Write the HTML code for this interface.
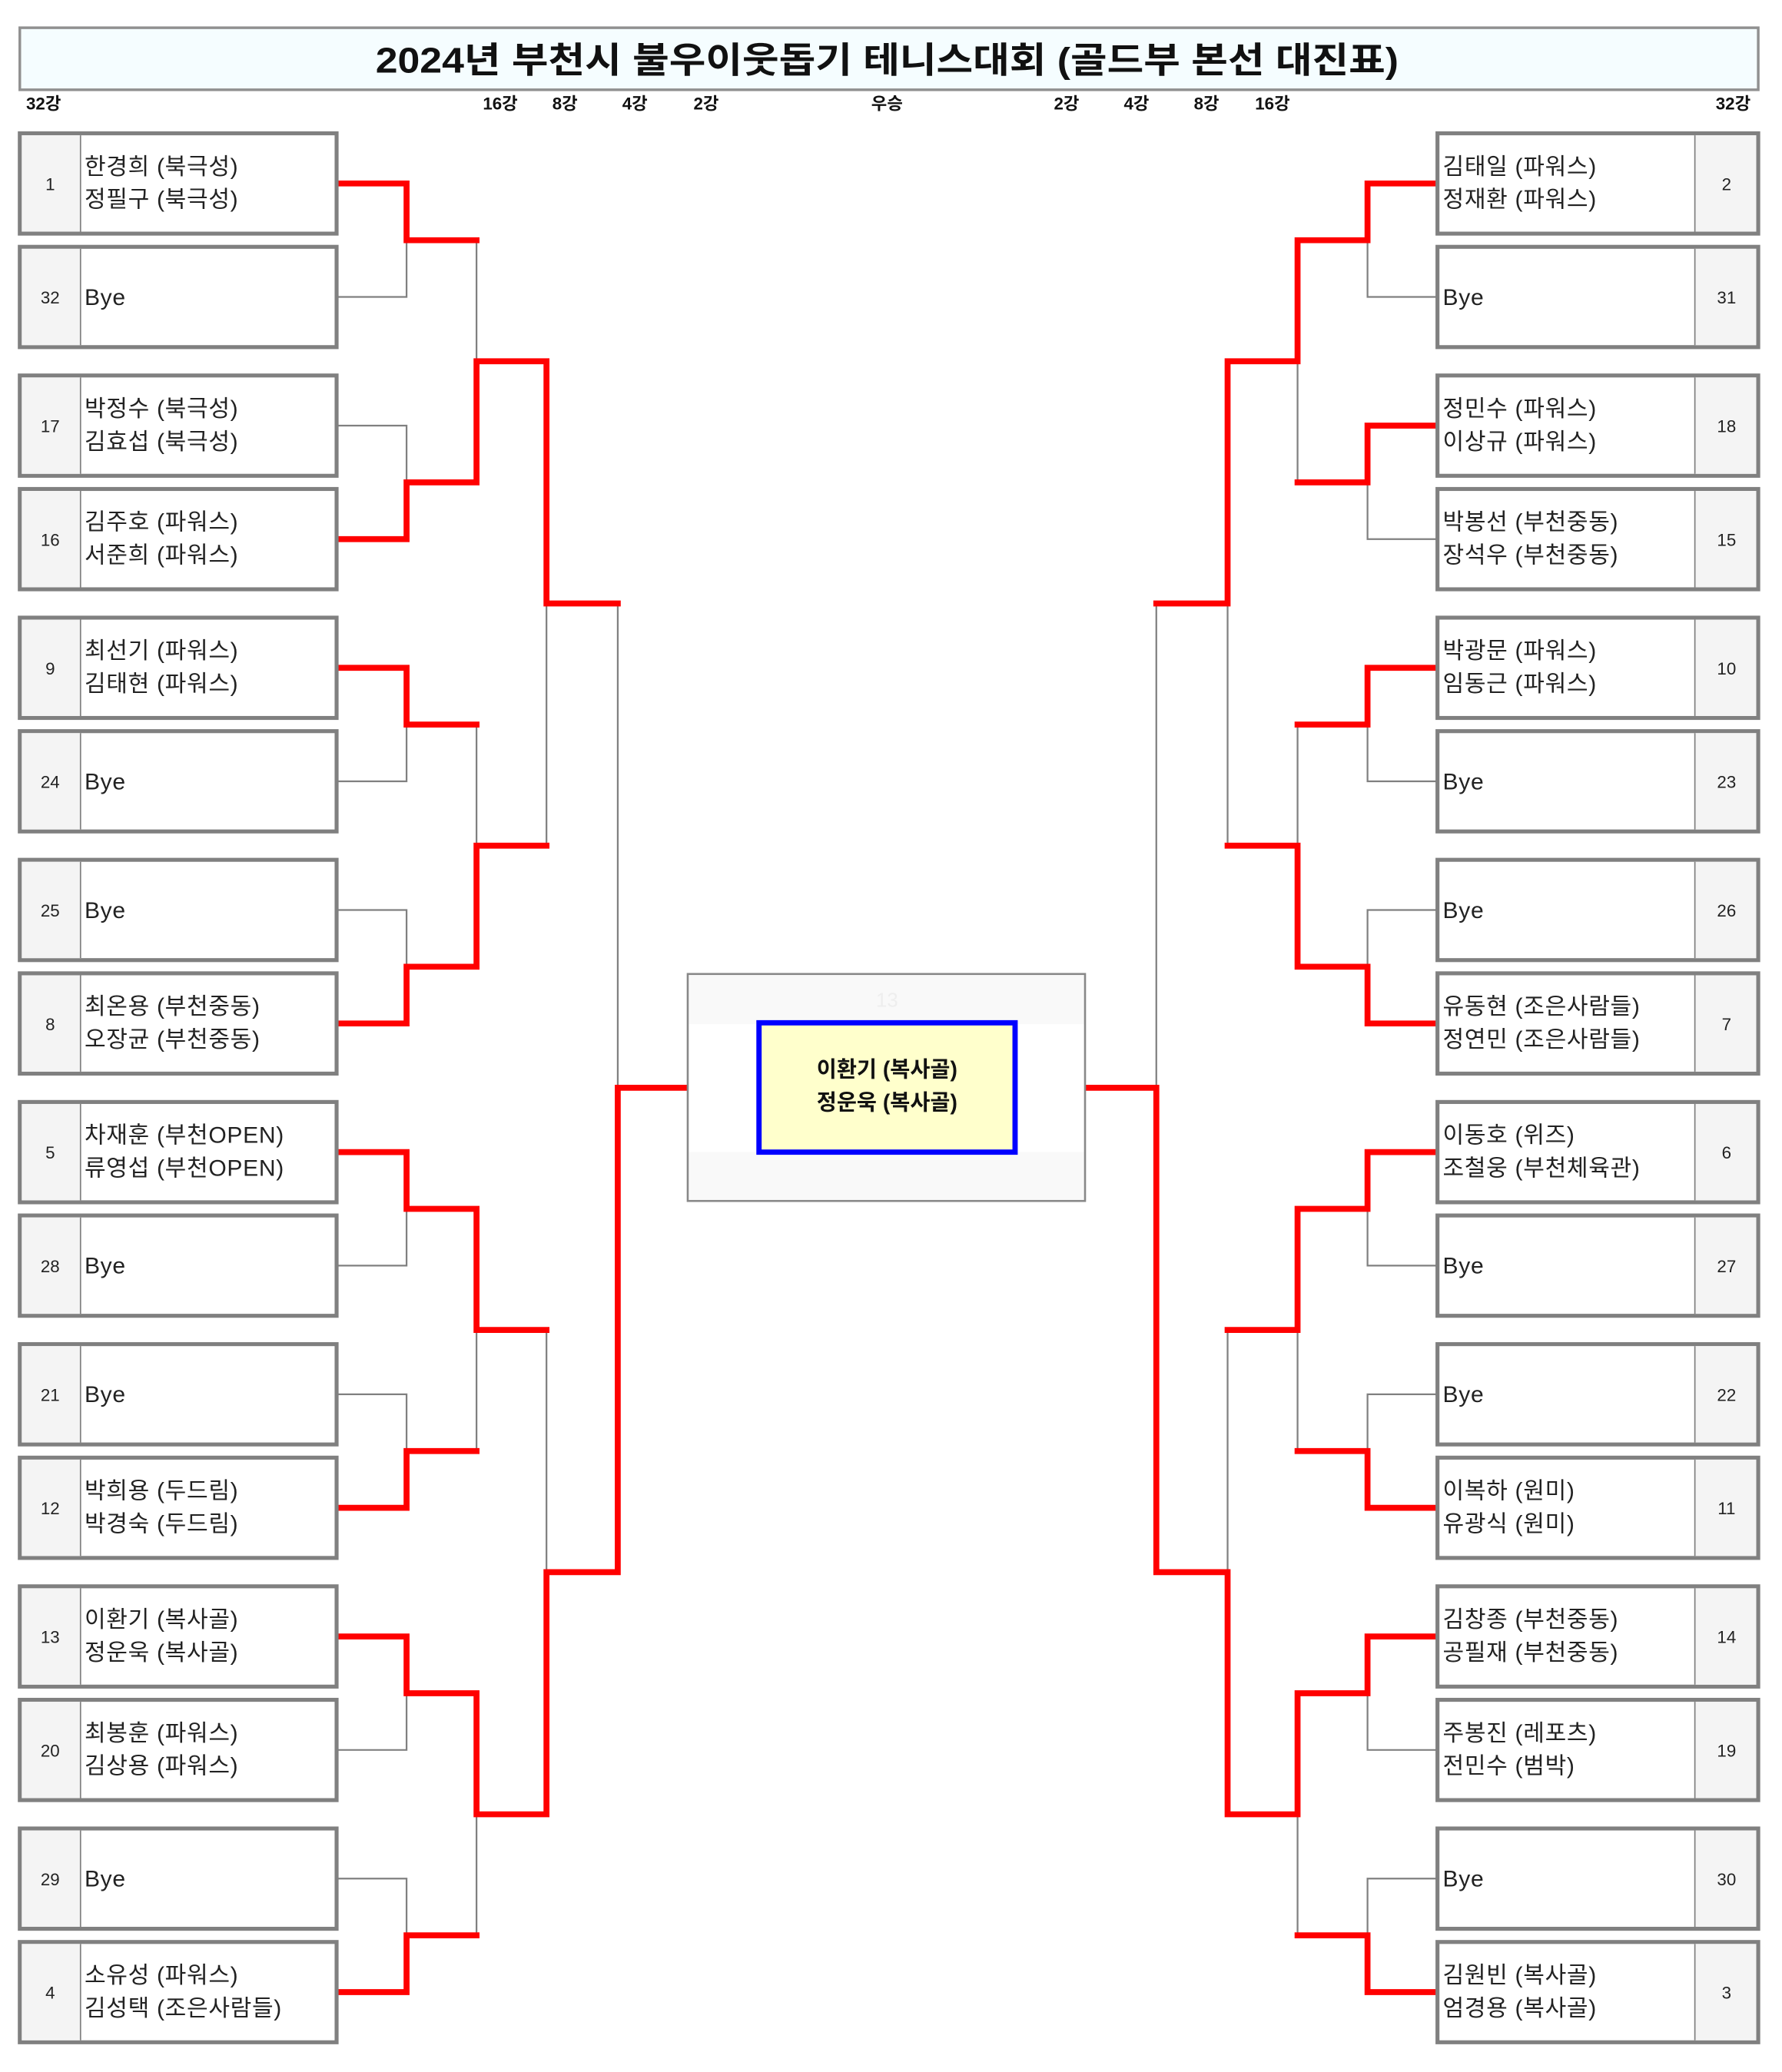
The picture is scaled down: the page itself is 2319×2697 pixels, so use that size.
<!DOCTYPE html>
<html><head><meta charset="utf-8"><style>html,body{margin:0;padding:0;background:#fff}svg{display:block}</style></head><body>
<svg xmlns="http://www.w3.org/2000/svg" width="2319" height="2697" viewBox="0 0 1350 1570" font-family="'Liberation Sans','Noto Sans CJK KR',sans-serif">
<defs>
<g id="L"><rect x="15" y="0" width="240" height="76" fill="#fff" stroke="#808080" stroke-width="3"/><rect x="16.5" y="1.5" width="44.5" height="73" fill="#f4f4f4"/><line x1="61" y1="1.5" x2="61" y2="74.5" stroke="#808080" stroke-width="1"/></g>
<g id="R"><rect x="1089" y="0" width="243" height="76" fill="#fff" stroke="#808080" stroke-width="3"/><rect x="1284" y="1.5" width="46.5" height="73" fill="#f4f4f4"/><line x1="1284" y1="1.5" x2="1284" y2="74.5" stroke="#808080" stroke-width="1"/></g>
</defs>
<rect x="15" y="21" width="1317" height="47" fill="#f5fdff" stroke="#909090" stroke-width="2"/>
<text x="672" y="55" text-anchor="middle" font-size="27" font-weight="bold" textLength="775" lengthAdjust="spacingAndGlyphs" fill="#111">2024년 부천시 불우이웃돕기 테니스대회 (골드부 본선 대진표)</text>
<g font-size="13" font-weight="bold" fill="#111" text-anchor="middle">
<text x="33" y="83">32강</text><text x="379" y="83">16강</text><text x="428" y="83">8강</text><text x="481" y="83">4강</text><text x="535" y="83">2강</text><text x="672" y="83">우승</text><text x="808" y="83">2강</text><text x="861" y="83">4강</text><text x="914" y="83">8강</text><text x="964" y="83">16강</text><text x="1313" y="83">32강</text>
</g>
<g fill="none" stroke="#808080" stroke-width="1.3">
<path d="M255 139H308V225H255M308 182H361 M255 322.5H308V408.5H255M308 365.5H361 M255 506H308V592H255M308 549H361 M255 689.5H308V775.5H255M308 732.5H361 M255 873H308V959H255M308 916H361 M255 1056.5H308V1142.5H255M308 1099.5H361 M255 1240H308V1326H255M308 1283H361 M255 1423.5H308V1509.5H255M308 1466.5H361"/>
<path d="M361 182V365.5M361 273.75H414 M361 549V732.5M361 640.75H414 M361 916V1099.5M361 1007.75H414 M361 1283V1466.5M361 1374.75H414"/>
<path d="M414 273.75V640.75M414 457.25H468 M414 1007.75V1374.75M414 1191.25H468 M468 457.25V1191.25M468 824.25H521"/>
<path d="M1089 139H1036V225H1089M1036 182H983 M1089 322.5H1036V408.5H1089M1036 365.5H983 M1089 506H1036V592H1089M1036 549H983 M1089 689.5H1036V775.5H1089M1036 732.5H983 M1089 873H1036V959H1089M1036 916H983 M1089 1056.5H1036V1142.5H1089M1036 1099.5H983 M1089 1240H1036V1326H1089M1036 1283H983 M1089 1423.5H1036V1509.5H1089M1036 1466.5H983"/>
<path d="M983 182V365.5M983 273.75H930 M983 549V732.5M983 640.75H930 M983 916V1099.5M983 1007.75H930 M983 1283V1466.5M983 1374.75H930"/>
<path d="M930 273.75V640.75M930 457.25H876 M930 1007.75V1374.75M930 1191.25H876 M876 457.25V1191.25M876 824.25H822"/>
</g>
<g fill="none" stroke="#ff0000" stroke-width="4.5" stroke-linejoin="miter" stroke-linecap="square">
<path d="M257 1240H308V1283H361V1374.75H414V1191.25H468V824.25H520"/>
<path d="M257 139H308V182H361"/>
<path d="M257 408.5H308V365.5H361V273.75H414V457.25H468"/>
<path d="M257 506H308V549H361"/>
<path d="M257 775.5H308V732.5H361V640.75H414"/>
<path d="M257 873H308V916H361V1007.75H414"/>
<path d="M257 1142.5H308V1099.5H361"/>
<path d="M257 1509.5H308V1466.5H361"/>
<path d="M1087 139H1036V182H983V273.75H930V457.25H876"/>
<path d="M1087 322.5H1036V365.5H983"/>
<path d="M1087 506H1036V549H983"/>
<path d="M1087 775.5H1036V732.5H983V640.75H930"/>
<path d="M1087 873H1036V916H983V1007.75H930"/>
<path d="M1087 1142.5H1036V1099.5H983"/>
<path d="M1087 1240H1036V1283H983V1374.75H930V1191.25H876V824.25H823"/>
<path d="M1087 1509.5H1036V1466.5H983"/>
</g>
<g font-size="17.5" letter-spacing="0.4" fill="#222">
<g transform="translate(0,101)"><use href="#L"/><text x="38" y="43" font-size="13" letter-spacing="0" text-anchor="middle">1</text><text x="64" y="31">한경희 (북극성)</text><text x="64" y="56">정필구 (북극성)</text></g>
<g transform="translate(0,187)"><use href="#L"/><text x="38" y="43" font-size="13" letter-spacing="0" text-anchor="middle">32</text><text x="64" y="44">Bye</text></g>
<g transform="translate(0,284.5)"><use href="#L"/><text x="38" y="43" font-size="13" letter-spacing="0" text-anchor="middle">17</text><text x="64" y="31">박정수 (북극성)</text><text x="64" y="56">김효섭 (북극성)</text></g>
<g transform="translate(0,370.5)"><use href="#L"/><text x="38" y="43" font-size="13" letter-spacing="0" text-anchor="middle">16</text><text x="64" y="31">김주호 (파워스)</text><text x="64" y="56">서준희 (파워스)</text></g>
<g transform="translate(0,468)"><use href="#L"/><text x="38" y="43" font-size="13" letter-spacing="0" text-anchor="middle">9</text><text x="64" y="31">최선기 (파워스)</text><text x="64" y="56">김태현 (파워스)</text></g>
<g transform="translate(0,554)"><use href="#L"/><text x="38" y="43" font-size="13" letter-spacing="0" text-anchor="middle">24</text><text x="64" y="44">Bye</text></g>
<g transform="translate(0,651.5)"><use href="#L"/><text x="38" y="43" font-size="13" letter-spacing="0" text-anchor="middle">25</text><text x="64" y="44">Bye</text></g>
<g transform="translate(0,737.5)"><use href="#L"/><text x="38" y="43" font-size="13" letter-spacing="0" text-anchor="middle">8</text><text x="64" y="31">최온용 (부천중동)</text><text x="64" y="56">오장균 (부천중동)</text></g>
<g transform="translate(0,835)"><use href="#L"/><text x="38" y="43" font-size="13" letter-spacing="0" text-anchor="middle">5</text><text x="64" y="31">차재훈 (부천OPEN)</text><text x="64" y="56">류영섭 (부천OPEN)</text></g>
<g transform="translate(0,921)"><use href="#L"/><text x="38" y="43" font-size="13" letter-spacing="0" text-anchor="middle">28</text><text x="64" y="44">Bye</text></g>
<g transform="translate(0,1018.5)"><use href="#L"/><text x="38" y="43" font-size="13" letter-spacing="0" text-anchor="middle">21</text><text x="64" y="44">Bye</text></g>
<g transform="translate(0,1104.5)"><use href="#L"/><text x="38" y="43" font-size="13" letter-spacing="0" text-anchor="middle">12</text><text x="64" y="31">박희용 (두드림)</text><text x="64" y="56">박경숙 (두드림)</text></g>
<g transform="translate(0,1202)"><use href="#L"/><text x="38" y="43" font-size="13" letter-spacing="0" text-anchor="middle">13</text><text x="64" y="31">이환기 (복사골)</text><text x="64" y="56">정운욱 (복사골)</text></g>
<g transform="translate(0,1288)"><use href="#L"/><text x="38" y="43" font-size="13" letter-spacing="0" text-anchor="middle">20</text><text x="64" y="31">최봉훈 (파워스)</text><text x="64" y="56">김상용 (파워스)</text></g>
<g transform="translate(0,1385.5)"><use href="#L"/><text x="38" y="43" font-size="13" letter-spacing="0" text-anchor="middle">29</text><text x="64" y="44">Bye</text></g>
<g transform="translate(0,1471.5)"><use href="#L"/><text x="38" y="43" font-size="13" letter-spacing="0" text-anchor="middle">4</text><text x="64" y="31">소유성 (파워스)</text><text x="64" y="56">김성택 (조은사람들)</text></g>
</g>
<g font-size="17.5" letter-spacing="0.4" fill="#222">
<g transform="translate(0,101)"><use href="#R"/><text x="1308" y="43" font-size="13" letter-spacing="0" text-anchor="middle">2</text><text x="1093" y="31">김태일 (파워스)</text><text x="1093" y="56">정재환 (파워스)</text></g>
<g transform="translate(0,187)"><use href="#R"/><text x="1308" y="43" font-size="13" letter-spacing="0" text-anchor="middle">31</text><text x="1093" y="44">Bye</text></g>
<g transform="translate(0,284.5)"><use href="#R"/><text x="1308" y="43" font-size="13" letter-spacing="0" text-anchor="middle">18</text><text x="1093" y="31">정민수 (파워스)</text><text x="1093" y="56">이상규 (파워스)</text></g>
<g transform="translate(0,370.5)"><use href="#R"/><text x="1308" y="43" font-size="13" letter-spacing="0" text-anchor="middle">15</text><text x="1093" y="31">박봉선 (부천중동)</text><text x="1093" y="56">장석우 (부천중동)</text></g>
<g transform="translate(0,468)"><use href="#R"/><text x="1308" y="43" font-size="13" letter-spacing="0" text-anchor="middle">10</text><text x="1093" y="31">박광문 (파워스)</text><text x="1093" y="56">임동근 (파워스)</text></g>
<g transform="translate(0,554)"><use href="#R"/><text x="1308" y="43" font-size="13" letter-spacing="0" text-anchor="middle">23</text><text x="1093" y="44">Bye</text></g>
<g transform="translate(0,651.5)"><use href="#R"/><text x="1308" y="43" font-size="13" letter-spacing="0" text-anchor="middle">26</text><text x="1093" y="44">Bye</text></g>
<g transform="translate(0,737.5)"><use href="#R"/><text x="1308" y="43" font-size="13" letter-spacing="0" text-anchor="middle">7</text><text x="1093" y="31">유동현 (조은사람들)</text><text x="1093" y="56">정연민 (조은사람들)</text></g>
<g transform="translate(0,835)"><use href="#R"/><text x="1308" y="43" font-size="13" letter-spacing="0" text-anchor="middle">6</text><text x="1093" y="31">이동호 (위즈)</text><text x="1093" y="56">조철웅 (부천체육관)</text></g>
<g transform="translate(0,921)"><use href="#R"/><text x="1308" y="43" font-size="13" letter-spacing="0" text-anchor="middle">27</text><text x="1093" y="44">Bye</text></g>
<g transform="translate(0,1018.5)"><use href="#R"/><text x="1308" y="43" font-size="13" letter-spacing="0" text-anchor="middle">22</text><text x="1093" y="44">Bye</text></g>
<g transform="translate(0,1104.5)"><use href="#R"/><text x="1308" y="43" font-size="13" letter-spacing="0" text-anchor="middle">11</text><text x="1093" y="31">이복하 (원미)</text><text x="1093" y="56">유광식 (원미)</text></g>
<g transform="translate(0,1202)"><use href="#R"/><text x="1308" y="43" font-size="13" letter-spacing="0" text-anchor="middle">14</text><text x="1093" y="31">김창종 (부천중동)</text><text x="1093" y="56">공필재 (부천중동)</text></g>
<g transform="translate(0,1288)"><use href="#R"/><text x="1308" y="43" font-size="13" letter-spacing="0" text-anchor="middle">19</text><text x="1093" y="31">주봉진 (레포츠)</text><text x="1093" y="56">전민수 (범박)</text></g>
<g transform="translate(0,1385.5)"><use href="#R"/><text x="1308" y="43" font-size="13" letter-spacing="0" text-anchor="middle">30</text><text x="1093" y="44">Bye</text></g>
<g transform="translate(0,1471.5)"><use href="#R"/><text x="1308" y="43" font-size="13" letter-spacing="0" text-anchor="middle">3</text><text x="1093" y="31">김원빈 (복사골)</text><text x="1093" y="56">엄경용 (복사골)</text></g>
</g>
<rect x="521" y="738" width="301" height="172" fill="#f9f9f9" stroke="#888" stroke-width="1.5"/>
<rect x="522" y="776" width="299" height="97" fill="#fff"/>
<text x="672" y="763" text-anchor="middle" font-size="15" fill="#eeeeee">13</text>
<rect x="575" y="775" width="194" height="98" fill="#ffffcc" stroke="#0000ff" stroke-width="4"/>
<g font-size="16.5" font-weight="bold" fill="#111" text-anchor="middle">
<text x="672" y="816">이환기 (복사골)</text>
<text x="672" y="841">정운욱 (복사골)</text>
</g>
</svg>
</body></html>
